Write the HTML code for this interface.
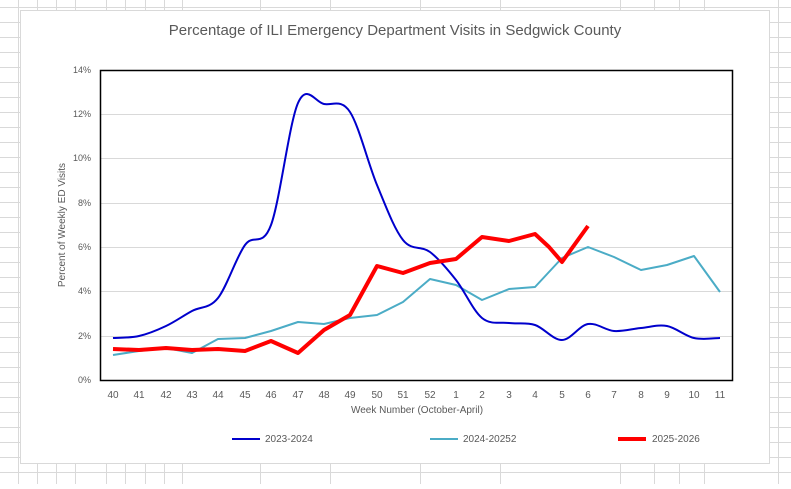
<!DOCTYPE html>
<html><head><meta charset="utf-8"><style>
body{margin:0;width:791px;height:484px;overflow:hidden;background:#fff;font-family:"Liberation Sans",sans-serif}
</style></head><body>
<svg width="791" height="484" viewBox="0 0 791 484" xmlns="http://www.w3.org/2000/svg" font-family="Liberation Sans, sans-serif">
<g stroke="#d9d9d9" stroke-width="1">
<line x1="18.5" y1="0" x2="18.5" y2="484"/><line x1="37.5" y1="0" x2="37.5" y2="484"/><line x1="56.5" y1="0" x2="56.5" y2="484"/><line x1="75.5" y1="0" x2="75.5" y2="484"/><line x1="106.5" y1="0" x2="106.5" y2="484"/><line x1="125.5" y1="0" x2="125.5" y2="484"/><line x1="145.5" y1="0" x2="145.5" y2="484"/><line x1="164.5" y1="0" x2="164.5" y2="484"/><line x1="182.5" y1="0" x2="182.5" y2="484"/><line x1="260.5" y1="0" x2="260.5" y2="484"/><line x1="330.5" y1="0" x2="330.5" y2="484"/><line x1="420.5" y1="0" x2="420.5" y2="484"/><line x1="500.5" y1="0" x2="500.5" y2="484"/><line x1="620.5" y1="0" x2="620.5" y2="484"/><line x1="654.5" y1="0" x2="654.5" y2="484"/><line x1="679.5" y1="0" x2="679.5" y2="484"/><line x1="704.5" y1="0" x2="704.5" y2="484"/><line x1="778.5" y1="0" x2="778.5" y2="484"/>
<line x1="0" y1="7.5" x2="791" y2="7.5"/><line x1="0" y1="22.5" x2="791" y2="22.5"/><line x1="0" y1="37.5" x2="791" y2="37.5"/><line x1="0" y1="52.5" x2="791" y2="52.5"/><line x1="0" y1="67.5" x2="791" y2="67.5"/><line x1="0" y1="82.5" x2="791" y2="82.5"/><line x1="0" y1="97.5" x2="791" y2="97.5"/><line x1="0" y1="112.5" x2="791" y2="112.5"/><line x1="0" y1="127.5" x2="791" y2="127.5"/><line x1="0" y1="142.5" x2="791" y2="142.5"/><line x1="0" y1="157.5" x2="791" y2="157.5"/><line x1="0" y1="172.5" x2="791" y2="172.5"/><line x1="0" y1="187.5" x2="791" y2="187.5"/><line x1="0" y1="202.5" x2="791" y2="202.5"/><line x1="0" y1="217.5" x2="791" y2="217.5"/><line x1="0" y1="232.5" x2="791" y2="232.5"/><line x1="0" y1="247.5" x2="791" y2="247.5"/><line x1="0" y1="262.5" x2="791" y2="262.5"/><line x1="0" y1="277.5" x2="791" y2="277.5"/><line x1="0" y1="292.5" x2="791" y2="292.5"/><line x1="0" y1="307.5" x2="791" y2="307.5"/><line x1="0" y1="322.5" x2="791" y2="322.5"/><line x1="0" y1="337.5" x2="791" y2="337.5"/><line x1="0" y1="352.5" x2="791" y2="352.5"/><line x1="0" y1="367.5" x2="791" y2="367.5"/><line x1="0" y1="382.5" x2="791" y2="382.5"/><line x1="0" y1="397.5" x2="791" y2="397.5"/><line x1="0" y1="412.5" x2="791" y2="412.5"/><line x1="0" y1="427.5" x2="791" y2="427.5"/><line x1="0" y1="442.5" x2="791" y2="442.5"/><line x1="0" y1="457.5" x2="791" y2="457.5"/><line x1="0" y1="472.5" x2="791" y2="472.5"/>
</g>
<rect x="20.5" y="10.5" width="749" height="453" fill="#fff" stroke="#d9d9d9"/>
<text x="395" y="35" text-anchor="middle" font-size="15" fill="#595959">Percentage of ILI Emergency Department Visits in Sedgwick County</text>
<g stroke="#d9d9d9" stroke-width="1">
<line x1="100" y1="114.5" x2="733" y2="114.5"/><line x1="100" y1="158.5" x2="733" y2="158.5"/><line x1="100" y1="203.5" x2="733" y2="203.5"/><line x1="100" y1="247.5" x2="733" y2="247.5"/><line x1="100" y1="291.5" x2="733" y2="291.5"/><line x1="100" y1="336.5" x2="733" y2="336.5"/>
</g>
<g font-size="9" fill="#595959" text-anchor="end">
<text x="91" y="73">14%</text><text x="91" y="117">12%</text><text x="91" y="161">10%</text><text x="91" y="206">8%</text><text x="91" y="250">6%</text><text x="91" y="294">4%</text><text x="91" y="339">2%</text><text x="91" y="383">0%</text>
</g>
<text transform="translate(65,225) rotate(-90)" text-anchor="middle" font-size="10" fill="#595959">Percent of Weekly ED Visits</text>
<g font-size="10" fill="#595959" text-anchor="middle">
<text x="113" y="398">40</text><text x="139" y="398">41</text><text x="166" y="398">42</text><text x="192" y="398">43</text><text x="218" y="398">44</text><text x="245" y="398">45</text><text x="271" y="398">46</text><text x="298" y="398">47</text><text x="324" y="398">48</text><text x="350" y="398">49</text><text x="377" y="398">50</text><text x="403" y="398">51</text><text x="430" y="398">52</text><text x="456" y="398">1</text><text x="482" y="398">2</text><text x="509" y="398">3</text><text x="535" y="398">4</text><text x="562" y="398">5</text><text x="588" y="398">6</text><text x="614" y="398">7</text><text x="641" y="398">8</text><text x="667" y="398">9</text><text x="694" y="398">10</text><text x="720" y="398">11</text>
</g>
<text x="417" y="413" text-anchor="middle" font-size="10" fill="#595959">Week Number (October-April)</text>
<polyline fill="none" stroke="#4bacc6" stroke-width="2" stroke-linejoin="round" points="113,355 139,351 166,348 192,353 218,339 245,338 271,331 298,322 324,324 350,318 377,315 403,302 430,279 456,285 482,300 509,289 535,287 562,258 588,247 614,257 641,270 667,265 694,256 720,292"/>
<path fill="none" stroke="#0000cc" stroke-width="2" id="blue" d=""/>
<polyline fill="none" stroke="#ff0000" stroke-width="4" stroke-linejoin="round" points="113,349 139,350 166,348 192,350 218,349 245,351 271,341 298,353 324,330 350,315 377,266 403,273 430,263 456,259 482,237 509,241 535,234 549,247 562,262 588,226"/>
<rect x="100.5" y="70.5" width="632" height="310" fill="none" stroke="#000" stroke-width="1.5"/>
<line x1="232" y1="439" x2="260" y2="439" stroke="#0000cc" stroke-width="2"/>
<text x="265" y="442" font-size="10" fill="#595959">2023-2024</text>
<line x1="430" y1="439" x2="458" y2="439" stroke="#4bacc6" stroke-width="2"/>
<text x="463" y="442" font-size="10" fill="#595959">2024-20252</text>
<line x1="618" y1="439" x2="646" y2="439" stroke="#ff0000" stroke-width="4"/>
<text x="652" y="442" font-size="10" fill="#595959">2025-2026</text>
</svg>
<script>
var p=[[113,338],[139,336],[166,326],[192,311],[218,298],[245,245],[271,225],[298,103],[324,104],[350,112],[377,185],[403,240],[430,252],[456,280],[482,318],[509,323],[535,325],[562,340],[588,324],[614,331],[641,328],[667,326],[694,338],[720,338]];
var d="M"+p[0][0]+","+p[0][1];
for(var i=0;i<p.length-1;i++){var a=p[i-1]||p[i],b=p[i],c=p[i+1],e=p[i+2]||c;
d+=" C"+(b[0]+(c[0]-a[0])/6)+","+(b[1]+(c[1]-a[1])/6)+" "+(c[0]-(e[0]-b[0])/6)+","+(c[1]-(e[1]-b[1])/6)+" "+c[0]+","+c[1];}
document.getElementById("blue").setAttribute("d",d);
</script>
</body></html>
